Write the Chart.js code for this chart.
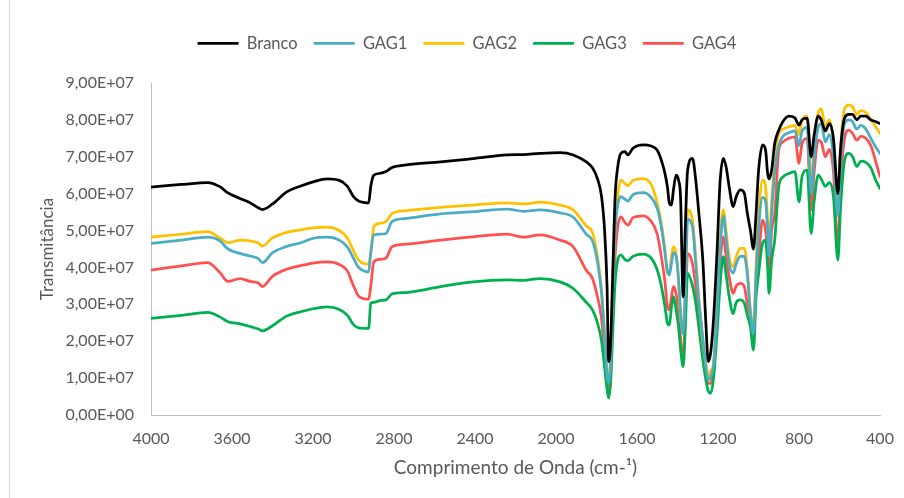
<!DOCTYPE html>
<html>
<head>
<meta charset="utf-8">
<title>Espectro FTIR</title>
<script src="https://cdn.jsdelivr.net/npm/chart.js@4.4.0/dist/chart.umd.min.js"></script>
<style>
    html, body { margin: 0; padding: 0; background: #fff; }
    #wrap { position: relative; width: 904px; height: 498px; }
    #wrap::before { content: ''; position: absolute; left: 9px; top: 0; bottom: 0; width: 1px; background: #d9d9d9; }
</style>
</head>
<body>
<div id="wrap"><canvas id="ftirChart" width="904" height="498"></canvas></div>
<script>
const wavenumbers = [
    4000, 3850, 3720, 3660, 3620, 3560, 3510, 3470, 3450, 3400, 3330, 3260, 3200, 3130, 3070, 3030, 3000, 2975, 2945, 2925, 2915, 2900, 2870, 2840,
    2810, 2740, 2570, 2410, 2240, 2160, 2080, 1980, 1915, 1850,
    1820, 1795, 1775, 1760, 1748, 1740, 1730, 1720, 1708, 1695, 1680, 1660, 1645, 1620, 1570, 1530,
    1500, 1480, 1462, 1450, 1440, 1430, 1420, 1407, 1395, 1385, 1372, 1362, 1350, 1326, 1310, 1295, 1275, 1260, 1248, 1236, 1222, 1205, 1190, 1174, 1160, 1145, 1125, 1110, 1090, 1070, 1055, 1040, 1025, 1012, 1000,
    980, 965, 955, 948, 935, 920, 900, 880, 850, 820, 800, 785, 760, 740, 725, 705, 690, 670, 650, 630, 608, 595, 575, 555, 535, 515, 495, 470, 445, 420, 400
];

const branco = [
    6.18e7, 6.25e7, 6.30e7, 6.19e7, 6.02e7, 5.87e7, 5.75e7, 5.62e7, 5.57e7, 5.72e7, 6.05e7, 6.21e7, 6.32e7, 6.40e7, 6.36e7, 6.20e7, 5.92e7, 5.80e7, 5.76e7, 5.75e7, 6.19e7, 6.50e7, 6.55e7, 6.60e7,
    6.71e7, 6.78e7, 6.86e7, 6.95e7, 7.05e7, 7.06e7, 7.09e7, 7.11e7, 7.05e7, 6.86e7,
    6.70e7, 6.40e7, 5.92e7, 5.00e7, 3.50e7, 1.45e7, 2.00e7, 3.80e7, 5.92e7, 6.73e7, 7.09e7, 7.14e7, 7.05e7, 7.23e7, 7.32e7, 7.29e7,
    7.18e7, 6.91e7, 6.55e7, 6.19e7, 5.74e7, 5.69e7, 6.10e7, 6.50e7, 6.37e7, 5.92e7, 3.20e7, 5.00e7, 6.64e7, 6.96e7, 6.37e7, 5.50e7, 4.20e7, 2.50e7, 1.45e7, 1.70e7, 2.60e7, 4.40e7, 6.30e7, 6.96e7, 6.73e7, 6.19e7, 5.65e7, 5.92e7, 6.10e7, 6.01e7, 5.46e7, 5.01e7, 4.50e7, 5.46e7, 6.60e7,
    7.32e7, 7.18e7, 6.55e7, 6.40e7, 6.64e7, 7.36e7, 7.72e7, 7.95e7, 8.10e7, 8.05e7, 7.86e7, 8.00e7, 8.05e7, 7.00e7, 7.60e7, 8.10e7, 8.00e7, 7.70e7, 7.90e7, 7.50e7, 6.00e7, 7.20e7, 8.05e7, 8.15e7, 8.15e7, 8.00e7, 8.10e7, 8.10e7, 8.00e7, 7.95e7, 7.90e7
];

const gag1 = [
    4.65e7, 4.74e7, 4.82e7, 4.72e7, 4.50e7, 4.38e7, 4.31e7, 4.24e7, 4.13e7, 4.40e7, 4.57e7, 4.67e7, 4.79e7, 4.82e7, 4.74e7, 4.55e7, 4.25e7, 4.00e7, 3.90e7, 3.88e7, 4.38e7, 4.88e7, 4.90e7, 4.92e7,
    5.24e7, 5.33e7, 5.45e7, 5.51e7, 5.58e7, 5.52e7, 5.56e7, 5.48e7, 5.36e7, 4.90e7,
    4.72e7, 4.15e7, 3.30e7, 2.10e7, 1.10e7, 0.87e7, 1.50e7, 3.40e7, 5.00e7, 5.70e7, 5.92e7, 5.85e7, 5.80e7, 5.97e7, 6.03e7, 5.90e7,
    5.60e7, 5.10e7, 4.40e7, 3.92e7, 3.80e7, 4.10e7, 4.40e7, 4.30e7, 3.70e7, 2.80e7, 2.20e7, 3.20e7, 5.30e7, 5.10e7, 4.10e7, 3.10e7, 2.10e7, 1.30e7, 0.95e7, 1.05e7, 1.35e7, 2.80e7, 4.40e7, 5.40e7, 4.80e7, 4.10e7, 3.85e7, 4.10e7, 4.30e7, 4.30e7, 3.80e7, 2.75e7, 2.20e7, 3.80e7, 5.00e7,
    5.90e7, 5.80e7, 5.00e7, 4.30e7, 5.50e7, 6.60e7, 7.30e7, 7.55e7, 7.65e7, 7.70e7, 7.30e7, 7.70e7, 7.80e7, 6.00e7, 7.00e7, 7.80e7, 7.90e7, 7.40e7, 7.60e7, 7.00e7, 5.40e7, 6.80e7, 7.90e7, 8.00e7, 7.95e7, 7.75e7, 7.85e7, 7.75e7, 7.50e7, 7.25e7, 7.09e7
];

const gag2 = [
    4.82e7, 4.90e7, 4.97e7, 4.80e7, 4.67e7, 4.74e7, 4.72e7, 4.66e7, 4.58e7, 4.80e7, 4.95e7, 5.02e7, 5.07e7, 5.09e7, 5.00e7, 4.80e7, 4.45e7, 4.20e7, 4.10e7, 4.09e7, 4.38e7, 5.10e7, 5.20e7, 5.24e7,
    5.46e7, 5.54e7, 5.63e7, 5.69e7, 5.75e7, 5.72e7, 5.77e7, 5.69e7, 5.56e7, 5.12e7,
    4.95e7, 4.29e7, 3.39e7, 2.20e7, 1.20e7, 1.03e7, 1.60e7, 3.60e7, 5.01e7, 5.95e7, 6.37e7, 6.28e7, 6.22e7, 6.36e7, 6.41e7, 6.25e7,
    5.74e7, 5.20e7, 4.50e7, 3.84e7, 3.84e7, 4.30e7, 4.56e7, 4.38e7, 3.66e7, 2.66e7, 2.30e7, 3.40e7, 5.56e7, 5.28e7, 4.29e7, 3.21e7, 2.00e7, 1.40e7, 1.04e7, 1.20e7, 1.40e7, 3.00e7, 4.80e7, 5.56e7, 5.01e7, 4.29e7, 4.02e7, 4.29e7, 4.52e7, 4.52e7, 3.93e7, 2.85e7, 2.39e7, 4.11e7, 5.37e7,
    6.37e7, 6.19e7, 5.28e7, 4.60e7, 5.80e7, 6.91e7, 7.63e7, 7.75e7, 7.81e7, 7.85e7, 7.60e7, 8.00e7, 8.10e7, 6.30e7, 7.40e7, 8.20e7, 8.30e7, 7.80e7, 8.00e7, 7.40e7, 5.60e7, 7.20e7, 8.30e7, 8.40e7, 8.35e7, 8.15e7, 8.25e7, 8.20e7, 8.00e7, 7.80e7, 7.63e7
];

const gag3 = [
    2.62e7, 2.70e7, 2.78e7, 2.66e7, 2.53e7, 2.47e7, 2.40e7, 2.33e7, 2.28e7, 2.42e7, 2.68e7, 2.80e7, 2.88e7, 2.93e7, 2.86e7, 2.70e7, 2.45e7, 2.36e7, 2.35e7, 2.35e7, 3.03e7, 3.05e7, 3.10e7, 3.12e7,
    3.28e7, 3.32e7, 3.48e7, 3.61e7, 3.66e7, 3.65e7, 3.70e7, 3.61e7, 3.43e7, 3.05e7,
    2.85e7, 2.50e7, 2.00e7, 1.30e7, 0.70e7, 0.46e7, 0.90e7, 2.20e7, 3.60e7, 4.20e7, 4.34e7, 4.22e7, 4.18e7, 4.30e7, 4.36e7, 4.25e7,
    3.93e7, 3.50e7, 2.94e7, 2.50e7, 2.44e7, 2.90e7, 3.21e7, 2.85e7, 2.40e7, 1.80e7, 1.31e7, 2.30e7, 3.84e7, 3.50e7, 3.03e7, 2.40e7, 1.50e7, 0.95e7, 0.65e7, 0.59e7, 1.00e7, 2.20e7, 3.50e7, 4.29e7, 3.80e7, 3.21e7, 2.75e7, 3.05e7, 3.12e7, 3.03e7, 2.70e7, 2.39e7, 1.76e7, 3.20e7, 3.80e7,
    4.65e7, 4.74e7, 4.02e7, 3.30e7, 4.20e7, 4.74e7, 6.19e7, 6.45e7, 6.55e7, 6.60e7, 5.78e7, 6.46e7, 6.64e7, 4.92e7, 5.80e7, 6.50e7, 6.40e7, 6.20e7, 6.30e7, 5.92e7, 4.20e7, 5.60e7, 6.90e7, 7.09e7, 7.00e7, 6.73e7, 6.88e7, 6.85e7, 6.70e7, 6.35e7, 6.14e7
];

const gag4 = [
    3.93e7, 4.04e7, 4.13e7, 3.86e7, 3.62e7, 3.70e7, 3.62e7, 3.58e7, 3.48e7, 3.76e7, 3.95e7, 4.05e7, 4.12e7, 4.15e7, 4.08e7, 3.90e7, 3.50e7, 3.22e7, 3.15e7, 3.14e7, 3.48e7, 4.15e7, 4.22e7, 4.25e7,
    4.56e7, 4.63e7, 4.74e7, 4.83e7, 4.90e7, 4.82e7, 4.88e7, 4.74e7, 4.56e7, 3.92e7,
    3.70e7, 3.20e7, 2.60e7, 1.60e7, 0.90e7, 0.68e7, 1.10e7, 2.70e7, 4.30e7, 5.10e7, 5.37e7, 5.22e7, 5.15e7, 5.35e7, 5.40e7, 5.25e7,
    4.90e7, 4.30e7, 3.60e7, 2.94e7, 2.85e7, 3.20e7, 3.48e7, 3.30e7, 2.80e7, 2.10e7, 1.49e7, 2.60e7, 4.38e7, 4.10e7, 3.48e7, 2.80e7, 1.80e7, 1.15e7, 0.86e7, 0.86e7, 1.30e7, 2.60e7, 4.10e7, 4.83e7, 4.30e7, 3.75e7, 3.30e7, 3.50e7, 3.57e7, 3.48e7, 3.00e7, 2.66e7, 1.94e7, 3.50e7, 4.20e7,
    5.28e7, 5.01e7, 4.40e7, 3.75e7, 5.00e7, 5.46e7, 7.18e7, 7.40e7, 7.50e7, 7.54e7, 6.82e7, 7.36e7, 7.50e7, 5.56e7, 6.60e7, 7.45e7, 7.40e7, 7.00e7, 7.20e7, 6.60e7, 4.56e7, 6.20e7, 7.50e7, 7.72e7, 7.63e7, 7.45e7, 7.55e7, 7.50e7, 7.30e7, 6.85e7, 6.46e7
];

const seriesNames = ['Branco', 'GAG1', 'GAG2', 'GAG3', 'GAG4'];
const seriesColors = ['#000000', '#4bacc6', '#ffc000', '#00b050', '#ff5050'];
const seriesValues = [branco, gag1, gag2, gag3, gag4];

const textColor = '#595959';
const fontFamily = 'Lato, "Open Sans", sans-serif';

// 9,00E+07 style labels
function sciLabel(value) {
    const parts = Number(value).toExponential(2).split('e');
    const exp = parseInt(parts[1], 10);
    const sign = exp < 0 ? '-' : '+';
    const digits = String(Math.abs(exp)).padStart(2, '0');
    return parts[0].replace('.', ',') + 'E' + sign + digits;
}

// fixed legend height so the plot starts where the original one does,
// then nudge the legend row to the original spot
const legendPlacement = {
    id: 'legendPlacement',
    beforeInit(chart) {
        const origFit = chart.legend.fit;
        chart.legend.fit = function () {
            origFit.bind(chart.legend)();
            this.height = 83;
        };
    },
    afterLayout(chart) {
        const lg = chart.legend;
        lg.left += 27;
        lg.right += 27;
        lg.top += 19;
    }
};

const datasets = seriesNames.map((name, i) => ({
    label: name,
    data: wavenumbers.map((w, j) => ({ x: w, y: seriesValues[i][j] })),
    borderColor: seriesColors[i],
    backgroundColor: seriesColors[i],
    borderWidth: 2.75,
    borderJoinStyle: 'round',
    borderCapStyle: 'round',
    pointRadius: 0,
    cubicInterpolationMode: 'monotone',
    fill: false
}));

const ctx = document.getElementById('ftirChart').getContext('2d');
const chart = new Chart(ctx, {
    type: 'line',
    data: { datasets: datasets },
    options: {
        responsive: false,
        animation: false,
        layout: { padding: { top: 0, right: 24, bottom: 0, left: 0 } },
        plugins: {
            legend: {
                position: 'top',
                labels: {
                    usePointStyle: true,
                    pointStyle: 'line',
                    pointStyleWidth: 41,
                    padding: 16,
                    color: textColor,
                    font: { family: fontFamily, size: 16.5 }
                }
            },
            tooltip: { enabled: false }
        },
        scales: {
            x: {
                type: 'linear',
                reverse: true,
                min: 400,
                max: 4000,
                grid: { display: false },
                border: { display: true, color: '#bfbfbf', width: 1 },
                ticks: {
                    stepSize: 400,
                    padding: 6,
                    color: textColor,
                    font: { family: fontFamily, size: 16 },
                    callback: v => String(v)
                },
                title: {
                    display: true,
                    text: 'Comprimento de Onda (cm-¹)',
                    color: textColor,
                    font: { family: fontFamily, size: 19 },
                    padding: { top: 0, bottom: 18.5 }
                },
                afterFit: scale => { scale.height = 83; }
            },
            y: {
                min: 0,
                max: 9e7,
                grid: { display: false },
                border: { display: true, color: '#bfbfbf', width: 1 },
                ticks: {
                    stepSize: 1e7,
                    padding: 9,
                    color: textColor,
                    font: { family: fontFamily, size: 16 },
                    callback: v => sciLabel(v)
                },
                title: {
                    display: true,
                    text: 'Transmitância',
                    color: textColor,
                    font: { family: fontFamily, size: 17 },
                    padding: { top: 37, bottom: 0 }
                },
                afterFit: scale => { scale.width = 151; }
            }
        }
    },
    plugins: [legendPlacement]
});
</script>
</body>
</html>
